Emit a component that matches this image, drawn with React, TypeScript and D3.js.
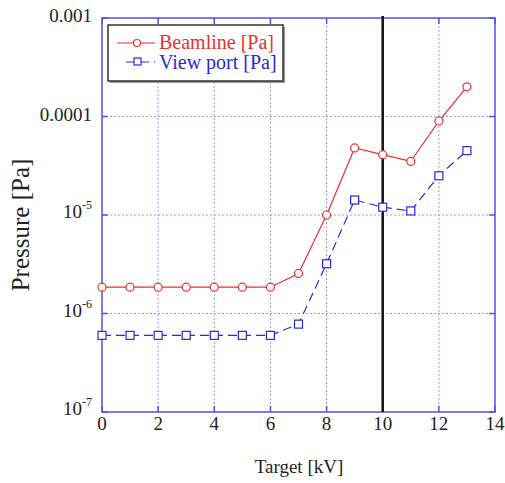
import React from 'react';
import * as d3 from 'd3';

// Target voltage [kV]
const targetKV = [0, 1, 2, 3, 4, 5, 6, 7, 8, 9, 10, 11, 12, 13];
const beamline = [1.85e-6, 1.85e-6, 1.85e-6, 1.85e-6, 1.85e-6, 1.85e-6, 1.85e-6, 2.55e-6, 1.0e-5, 4.8e-5, 4.1e-5, 3.5e-5, 9.0e-5, 2.0e-4];
const viewPort = [6.0e-7, 6.0e-7, 6.0e-7, 6.0e-7, 6.0e-7, 6.0e-7, 6.0e-7, 7.8e-7, 3.2e-6, 1.42e-5, 1.2e-5, 1.1e-5, 2.5e-5, 4.5e-5];
const xTicks = [0, 2, 4, 6, 8, 10, 12, 14];
const yTicks = [1e-7, 1e-6, 1e-5, 1e-4, 1e-3];
const markerKV = 10;

const W = 505;
const H = 483;
const margin = { top: 18, right: 10, bottom: 71, left: 102 };

const RED = '#e83030';
const BLUE = '#2828e0';
const FRAME = '#5050f0';
const txt = { fontFamily: '"Liberation Serif"' };

const yLabel = (v: number) => {
  if (v === 1e-3) return <tspan>0.001</tspan>;
  if (v === 1e-4) return <tspan>0.0001</tspan>;
  const e = Math.round(Math.log10(v));
  return (
    <>
      <tspan>10</tspan>
      <tspan dy={-9} fontSize={12}>{e}</tspan>
    </>
  );
};

export default function App() {
  const iw = W - margin.left - margin.right;
  const ih = H - margin.top - margin.bottom;
  const x = d3.scaleLinear().domain([0, 14]).range([margin.left, margin.left + iw]);
  const y = d3.scaleLog().domain([1e-7, 1e-3]).range([margin.top + ih, margin.top]);

  const line = d3.line<number>()
    .x((_, i) => x(targetKV[i]))
    .y(d => y(d));

  const x0 = x(0), x1 = x(14), y0 = y(1e-7), y1 = y(1e-3);

  return (
    <svg width={W} height={H} style={{ position: 'absolute', left: 0, top: 0, background: '#fff' }}>
      {/* grid */}
      {xTicks.slice(1, -1).map(t => (
        <line key={'gx' + t} x1={x(t)} x2={x(t)} y1={y1} y2={y0}
          stroke="#9a9af5" strokeWidth={1} strokeDasharray="2,2" />
      ))}
      {yTicks.slice(1, -1).map(t => (
        <line key={'gy' + t} x1={x0} x2={x1} y1={y(t)} y2={y(t)}
          stroke="#9a9af5" strokeWidth={1} strokeDasharray="2,2" />
      ))}
      {/* ticks inward */}
      {xTicks.map(t => (
        <g key={'tx' + t}>
          <line x1={x(t)} x2={x(t)} y1={y0} y2={y0 - 6} stroke={FRAME} strokeWidth={1.5} />
          <line x1={x(t)} x2={x(t)} y1={y1} y2={y1 + 6} stroke={FRAME} strokeWidth={1.5} />
        </g>
      ))}
      {yTicks.map(t => (
        <g key={'ty' + t}>
          <line x1={x0} x2={x0 + 6} y1={y(t)} y2={y(t)} stroke={FRAME} strokeWidth={1.5} />
          <line x1={x1} x2={x1 - 6} y1={y(t)} y2={y(t)} stroke={FRAME} strokeWidth={1.5} />
        </g>
      ))}
      <rect x={x0} y={y1} width={x1 - x0} height={y0 - y1} fill="none" stroke={FRAME} strokeWidth={1.5} />

      {/* vertical marker line */}
      <line x1={x(markerKV)} x2={x(markerKV)} y1={y1 - 2} y2={y0} stroke="#111" strokeWidth={2.5} />

      {/* series */}
      <path d={line(viewPort) ?? ''} fill="none" stroke={BLUE} strokeWidth={1.2} strokeDasharray="9,5" />
      <path d={line(beamline) ?? ''} fill="none" stroke={RED} strokeWidth={1.2} />
      {viewPort.map((v, i) => (
        <rect key={'vp' + i} x={x(targetKV[i]) - 4} y={y(v) - 4} width={8} height={8}
          fill="#fff" stroke={BLUE} strokeWidth={1.2} />
      ))}
      {beamline.map((v, i) => (
        <circle key={'bl' + i} cx={x(targetKV[i])} cy={y(v)} r={4}
          fill="#fff" stroke={RED} strokeWidth={1.2} />
      ))}

      {/* tick labels */}
      {xTicks.map(t => (
        <text key={'lx' + t} x={x(t)} y={y0 + 18} textAnchor="middle" style={txt} fontSize={19} fill="#222">{t}</text>
      ))}
      {yTicks.map(t => (
        <text key={'ly' + t} x={x0 - 10} y={y(t) + (t >= 1e-4 ? 4 : 3)} textAnchor="end" style={txt} fontSize={19} fill="#222">{yLabel(t)}</text>
      ))}

      {/* axis titles */}
      <text x={299} y={473} textAnchor="middle" style={txt} fontSize={19} fill="#222">Target [kV]</text>
      <text transform={`translate(29, ${225}) rotate(-90)`} textAnchor="middle"
        style={txt} fontSize={25} fill="#222">Pressure [Pa]</text>

      {/* legend */}
      <rect x={110} y={27} width={175} height={56} fill="#999" />
      <rect x={108} y={25} width={175} height={56} fill="#fff" stroke="#333" strokeWidth={1.5} />
      <line x1={117} x2={155} y1={43} y2={43} stroke={RED} strokeWidth={1.2} />
      <circle cx={137} cy={43} r={3.5} fill="#fff" stroke={RED} strokeWidth={1.2} />
      <text x={159} y={49} style={txt} fontSize={20} fill={RED}>Beamline [Pa]</text>
      <line x1={126} x2={155} y1={62} y2={62} stroke={BLUE} strokeWidth={1.2} strokeDasharray="9,5" />
      <rect x={134} y={58} width={7} height={7} fill="#fff" stroke={BLUE} strokeWidth={1.2} />
      <text x={159} y={69} style={txt} fontSize={20} fill={BLUE}>View port [Pa]</text>
    </svg>
  );
}
